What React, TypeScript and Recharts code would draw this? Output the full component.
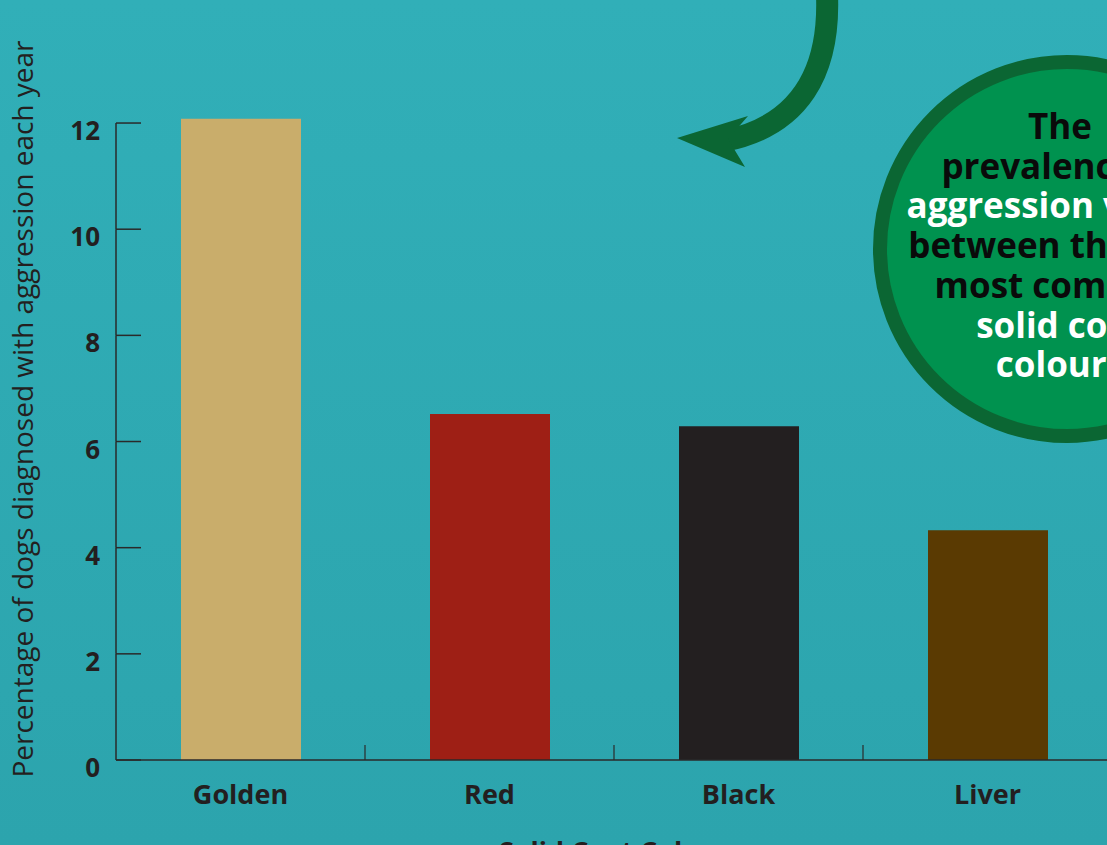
import React from 'react';
import { BarChart, Bar, XAxis, YAxis, Cell, Label } from 'recharts';

const categories = ['Golden', 'Red', 'Black', 'Liver'];
const prevalence = [12.08, 6.52, 6.29, 4.33];
const barColors = ['#c9ad6b', '#9e1f15', '#231f20', '#5a3a02'];
const yTicks = [0, 2, 4, 6, 8, 10, 12];
const yAxisTitle = 'Percentage of dogs diagnosed with aggression each year';
const xAxisTitle = 'Solid Coat Colour';
const calloutLines = ['The', 'prevalence of', 'aggression varied', 'between the four', 'most common', 'solid coat', 'colours'];
const calloutColors = ['#0a0a0a', '#0a0a0a', '#ffffff', '#0a0a0a', '#0a0a0a', '#ffffff', '#ffffff'];

const data = categories.map((c, i) => ({ name: c, value: prevalence[i] }));

const INK = '#231f20';
const AXIS = '#2a2a2a';
const FONT = '"Open Sans", "DejaVu Sans", sans-serif';

const CH_W = 1200;
const CH_H = 845;
const M_TOP = 96.5;
const M_RIGHT = 88;
const Y_W = 116;
const X_H = 85;
const DOMAIN_MAX = 12.5;
const plotH = CH_H - M_TOP - X_H;
const unitPx = plotH / DOMAIN_MAX;
const bandW = (CH_W - Y_W - M_RIGHT) / categories.length;
const AXIS_Y = CH_H - X_H;

const YTick = (props: any) => {
  const { x, y, payload } = props;
  const v = payload.value;
  return (
    <g>
      <line x1={x} x2={x + 25} y1={y} y2={y} stroke={AXIS} strokeWidth={1.5} />
      {v > 0 && <line x1={x} x2={x} y1={y} y2={y + 2 * unitPx} stroke={AXIS} strokeWidth={1.5} />}
      <text x={x - 16} y={y + 7} textAnchor="end" dominantBaseline="central" fontFamily={FONT} fontWeight={700} fontSize={26} fill={INK}>
        {v}
      </text>
    </g>
  );
};

const XTick = (props: any) => {
  const { x, payload } = props;
  return (
    <g>
      <line x1={x + bandW / 2} x2={x + bandW / 2} y1={AXIS_Y} y2={AXIS_Y - 15} stroke={AXIS} strokeWidth={1.2} />
      <text x={x} y={AXIS_Y + 33} textAnchor="middle" dominantBaseline="central" fontFamily={FONT} fontWeight={700} fontSize={27} fill={INK}>
        {payload.value}
      </text>
    </g>
  );
};

const YTitle = (props: any) => {
  const cx = 22;
  const cy = 409;
  return (
    <text x={cx} y={cy} transform={`rotate(-90 ${cx} ${cy})`} textAnchor="middle" dominantBaseline="central" fontFamily={FONT} fontSize={28} fill={INK}>
      {yAxisTitle}
    </text>
  );
};

const XTitle = (props: any) => (
  <text x={Y_W + (CH_W - Y_W - M_RIGHT) / 2} y={850} textAnchor="middle" dominantBaseline="central" fontFamily={FONT} fontWeight={700} fontSize={27} fill={INK}>
    {xAxisTitle}
  </text>
);

export default function App() {
  return (
    <div
      style={{
        position: 'absolute',
        left: 0,
        top: 0,
        width: 1107,
        height: 845,
        overflow: 'hidden',
        background: 'linear-gradient(#31afb8, #2ca4ad)',
      }}
    >
      <BarChart width={CH_W} height={CH_H} data={data} margin={{ top: M_TOP, right: M_RIGHT, bottom: 0, left: 0 }}>
        <XAxis
          dataKey="name"
          height={X_H}
          tickLine={false}
          axisLine={{ stroke: AXIS, strokeWidth: 1.5 }}
          tick={<XTick />}
          interval={0}
        >
          <Label content={<XTitle />} />
        </XAxis>
        <YAxis
          width={Y_W}
          domain={[0, DOMAIN_MAX]}
          ticks={yTicks}
          axisLine={false}
          tickLine={false}
          tickSize={0}
          tickMargin={0}
          tick={<YTick />}
        >
          <Label content={<YTitle />} />
        </YAxis>
        <Bar dataKey="value" barSize={120} isAnimationActive={false}>
          {data.map((d, i) => (
            <Cell key={d.name} fill={barColors[i]} />
          ))}
        </Bar>
      </BarChart>
      <svg width={1107} height={845} style={{ position: 'absolute', left: 0, top: 0, pointerEvents: 'none' }}>
        <path d="M 827 -5 C 830 72, 800 126, 724 141" fill="none" stroke="#0b6633" strokeWidth={22} />
        <polygon points="677,138 748,116 728,139 745,167" fill="#0b6633" />
        <circle cx={1067} cy={249} r={187} fill="#00924f" stroke="#0b6633" strokeWidth={14} />
        {calloutLines.map((t, i) => (
          <text key={t} x={1060} y={139 + i * 39.7} textAnchor="middle" fontFamily={FONT} fontWeight={700} fontSize={35} fill={calloutColors[i]}>
            {t}
          </text>
        ))}
      </svg>
    </div>
  );
}
